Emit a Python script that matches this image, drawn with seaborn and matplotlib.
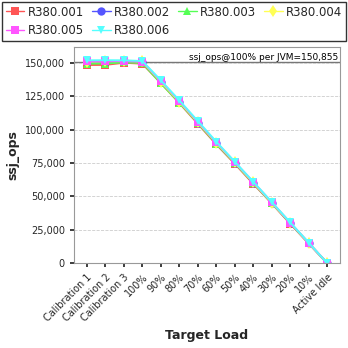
import matplotlib
matplotlib.use("Agg")
import matplotlib.pyplot as plt
import seaborn as sns
import pandas as pd
from matplotlib.ticker import FuncFormatter
from matplotlib.lines import Line2D

categories = ["Calibration 1", "Calibration 2", "Calibration 3", "100%", "90%", "80%", "70%",
              "60%", "50%", "40%", "30%", "20%", "10%", "Active Idle"]
series_names = ["R380.001", "R380.002", "R380.003", "R380.004", "R380.005", "R380.006"]
r001 = [148500, 148600, 150200, 149500, 135000, 120000, 104500, 89000, 74500, 59500, 44800, 29500, 14700, 0]
r002 = [150500, 150600, 151200, 150800, 135800, 120800, 105300, 89900, 75200, 60200, 45200, 30000, 15000, 0]
r003 = [149500, 149600, 150500, 150000, 134800, 120300, 105000, 89500, 75000, 60000, 45000, 29900, 14900, 0]
r004 = [151000, 151200, 151800, 151200, 136000, 121000, 105600, 90200, 75400, 60400, 45300, 30100, 15100, 0]
r005 = [151200, 151300, 151400, 151000, 136500, 121500, 106000, 90500, 75800, 60800, 45600, 30300, 15200, 0]
r006 = [152000, 152100, 152000, 151500, 137000, 122000, 106500, 91000, 76000, 61000, 45800, 30500, 15300, 0]
ref_value = 150855
ref_label = "ssj_ops@100% per JVM=150,855"

values = [r001, r002, r003, r004, r005, r006]
colors = ["#ff5555", "#5555ff", "#55ff55", "#ffff55", "#ff55ff", "#55ffff"]
markers = ["s", "o", "^", "d", "s", "v"]

rows = []
for name, vals in zip(series_names, values):
    for i, v in enumerate(vals):
        rows.append({"series": name, "x": i, "y": v})
df = pd.DataFrame(rows)

sns.set_theme(style="white")
plt.rcParams['font.family'] = ['DejaVu Sans']

fig = plt.figure(figsize=(3.48, 3.48), dpi=100)
ax = fig.add_axes([74/348, 1-263/348, (340-74)/348, (263-47)/348])

sns.lineplot(data=df, x="x", y="y", hue="series", style="series",
             palette=dict(zip(series_names, colors)),
             markers=dict(zip(series_names, markers)), dashes=False,
             markersize=6, linewidth=1.4, markeredgewidth=0, ax=ax, legend=False)

ax.axhline(ref_value, color="#777777", linewidth=1, zorder=0)
ax.text(0.995, ref_value, ref_label, transform=ax.get_yaxis_transform(),
        ha="right", va="bottom", fontsize=6.5, color="black")

ax.set_xlim(-0.7, len(categories) - 0.3)
ax.set_ylim(0, 162000)
ax.set_yticks([0, 25000, 50000, 75000, 100000, 125000, 150000])
ax.yaxis.set_major_formatter(FuncFormatter(lambda v, p: f"{int(v):,}"))
ax.set_xticks(range(len(categories)))
ax.set_xticklabels(categories, rotation=45, ha="right", rotation_mode="anchor", fontsize=7)
ax.tick_params(axis="y", labelsize=7, length=3, left=True)
ax.tick_params(axis="x", length=3, bottom=True)
ax.grid(axis="y", color="#cccccc", linestyle="--", linewidth=0.6)
for s in ax.spines.values():
    s.set_color("#999999")
    s.set_linewidth(0.8)
ax.set_xlabel("Target Load", fontsize=9, fontweight="bold")
ax.set_ylabel("ssj_ops", fontsize=9, fontweight="bold")

handles = [Line2D([0], [0], color=c, marker=m, markersize=6, linewidth=1, markeredgewidth=0)
           for c, m in zip(colors, markers)]
order = [0, 4, 1, 5, 2, 3]
leg = fig.legend([handles[i] for i in order], [series_names[i] for i in order],
                 loc="upper left", bbox_to_anchor=(2/348, 1-42/348, 344/348, 40/348),
                 mode="expand", ncol=4, fontsize=8.5, frameon=True, fancybox=False,
                 borderpad=0.3, handlelength=1.6, handletextpad=0.3, columnspacing=0.6,
                 labelspacing=0.5, borderaxespad=0)
leg.get_frame().set_edgecolor("black")
leg.get_frame().set_linewidth(1)

fig.savefig("out.png", dpi=100)
